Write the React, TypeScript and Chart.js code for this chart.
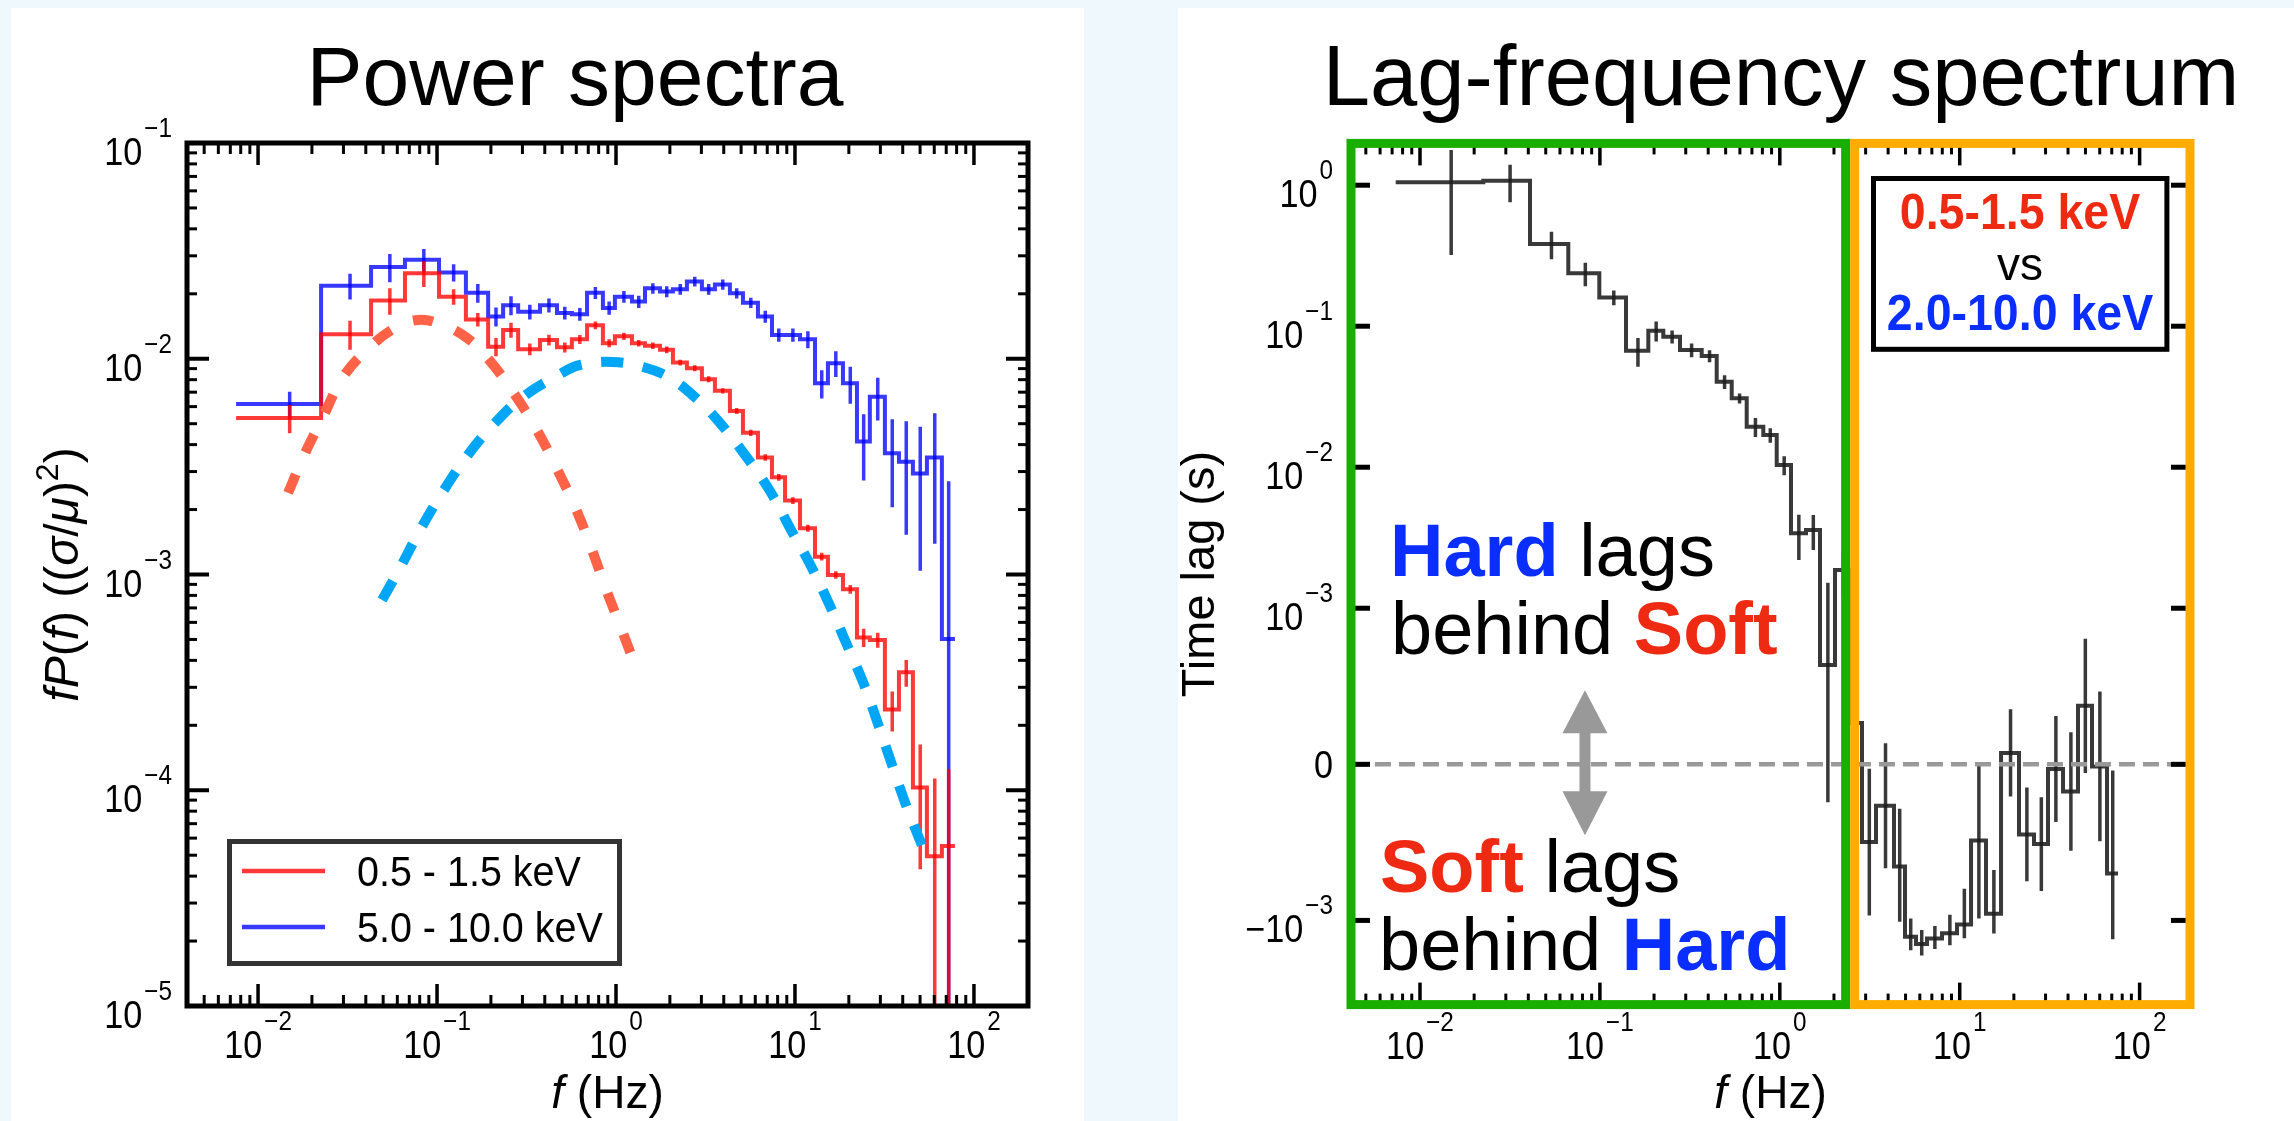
import React, { useEffect, useRef } from 'react';
import { Chart, registerables } from 'chart.js';

Chart.register(...registerables);

const FONT = '"Liberation Sans", Arial, Helvetica, sans-serif';

// ---------------- Power spectra (left panel) ----------------
const psEdges = [0.00754, 0.0225, 0.0428, 0.0662, 0.1026, 0.145, 0.193, 0.234, 0.284, 0.376, 0.468, 0.567, 0.689, 0.845, 0.986, 1.228, 1.452, 1.761, 2.08, 2.49, 3.02, 3.57, 4.33, 5.12, 6.21, 7.44, 8.8, 10.67, 12.94, 15.28, 18.54, 22.2, 26.2, 31.8, 38.1, 45.6, 54.6, 66.2, 78.3];
const softPower = [0.00531, 0.013, 0.0186, 0.0249, 0.0194, 0.0152, 0.01137, 0.0136, 0.01107, 0.01222, 0.0113, 0.0123, 0.0143, 0.0118, 0.0127, 0.0118, 0.0115, 0.011, 0.0096, 0.00904, 0.00804, 0.0071, 0.00573, 0.00454, 0.00349, 0.00282, 0.0022, 0.00164, 0.00121, 0.000995, 0.000854, 0.000511, 0.000497, 0.000237, 0.000352, 0.000103, 0.0000495, 0.0000552];
const softErr = [0.0008, 0.002, 0.0026, 0.0034, 0.0016, 0.0011, 0.0011, 0.0011, 0.0007, 0.0007, 0.0006, 0.0006, 0.0006, 0.0005, 0.0005, 0.0004, 0.0004, 0.0004, 0.0003, 0.0003, 0.00025, 0.0002, 0.00018, 0.00015, 0.00012, 0.0001, 0.00008, 0.00006, 0.00005, 0.00004, 0.00004, 0.00005, 0.00004, 0.00005, 0.00005, 0.00006, 0.000064, 0.00007];
const hardPower = [0.00617, 0.0218, 0.0266, 0.0288, 0.0251, 0.0202, 0.0157, 0.0177, 0.0165, 0.0177, 0.0163, 0.0161, 0.0202, 0.0172, 0.0194, 0.0184, 0.0212, 0.0205, 0.021, 0.0228, 0.021, 0.0221, 0.0201, 0.0182, 0.0157, 0.0129, 0.0129, 0.0123, 0.00769, 0.00952, 0.00769, 0.00413, 0.00667, 0.00365, 0.00333, 0.00294, 0.00349, 0.000502];
const hardErr = [0.00086, 0.003, 0.004, 0.0035, 0.0023, 0.002, 0.0016, 0.0018, 0.0013, 0.0013, 0.0011, 0.0011, 0.0013, 0.0012, 0.0012, 0.0012, 0.0012, 0.0012, 0.0012, 0.0012, 0.0012, 0.0012, 0.0011, 0.001, 0.001, 0.0009, 0.0009, 0.0011, 0.00115, 0.0013, 0.0015, 0.0014, 0.0015, 0.0016, 0.0018, 0.0019, 0.0021, 0.0022];
const softFitF = [0.01472, 0.01832, 0.02307, 0.02985, 0.04227, 0.05825, 0.07834, 0.104, 0.1472, 0.1977, 0.2729, 0.3665, 0.4742, 0.5977, 0.7345, 0.879, 1.0666, 1.309];
const softFitP = [0.00239, 0.00366, 0.00537, 0.00823, 0.01134, 0.01389, 0.01513, 0.01449, 0.01248, 0.00976, 0.00679, 0.00458, 0.00302, 0.00201, 0.0013, 0.000857, 0.000565, 0.00036];
const hardFitF = [0.04932, 0.06209, 0.08035, 0.1067, 0.1472, 0.2056, 0.302, 0.4989, 0.629, 0.9499, 1.416, 2.004, 2.872, 3.811, 5.26, 7.251, 9.377, 12.28, 15.69, 19.54, 24.27, 29.09, 34.85, 41.7, 51.17];
const hardFitP = [0.000762, 0.001072, 0.001607, 0.002387, 0.00354, 0.004932, 0.006653, 0.00859, 0.009354, 0.009662, 0.009162, 0.008147, 0.006442, 0.005039, 0.003581, 0.002438, 0.001642, 0.001095, 0.000715, 0.000471, 0.00031, 0.000203, 0.000131, 0.0000855, 0.0000557];
const psLegend = ['0.5 - 1.5 keV', '5.0 - 10.0 keV'];
const psYTicks = [1e-5, 1e-4, 1e-3, 1e-2, 1e-1];
const xTicks = [1e-2, 1e-1, 1, 10, 100];

// ---------------- Lag-frequency spectrum (right panel) ----------------
const lagEdges = [0.00733, 0.02248, 0.04088, 0.06673, 0.09924, 0.1397, 0.1858, 0.2251, 0.2788, 0.368, 0.4459, 0.5403, 0.6546, 0.8095, 0.9612, 1.154, 1.398, 1.673, 2.027, 2.488, 2.863, 3.425, 4.312, 4.966, 5.716, 6.58, 7.973, 9.66, 11.56, 14.0, 16.97, 21.36, 25.88, 30.96, 37.52, 45.46, 54.38, 65.89, 75.86];
const lagValues = [1.05, 1.076, 0.383, 0.237, 0.16, 0.067, 0.0929, 0.0843, 0.0678, 0.0615, 0.0404, 0.0308, 0.01937, 0.0169, 0.01037, 0.0034, 0.00359, 0.000637, 0.00187, 0.000265, -0.000498, -0.000265, -0.000654, -0.001307, -0.00147, -0.001346, -0.001233, -0.001067, -0.000488, -0.000957, 0.0000731, -0.000449, -0.000511, -0.0000301, -0.000174, 0.000375, -0.0000135, -0.0007];
const lagErr = [0.73, 0.32, 0.085, 0.045, 0.019, 0.0155, 0.015, 0.009, 0.0075, 0.006, 0.0045, 0.0025, 0.003, 0.002, 0.0016, 0.0012, 0.001, 0.00088, 0.00067, 0.0005, 0.00047, 0.0004, 0.00037, 0.00032, 0.0003, 0.00025, 0.00027, 0.00027, 0.0005, 0.00028, 0.00028, 0.0003, 0.0003, 0.00034, 0.00038, 0.00043, 0.00048, 0.00066];
const lagYTicks = [1, 0.1, 0.01, 0.001, 0, -0.001];
const lagBoxText = ['0.5-1.5 keV', 'vs', '2.0-10.0 keV'];
const regionSplitHz = 2.46;
const arrowHz = 0.0826;

// symmetric-log transform used by the lag axis
const LIN_THRESH = 1e-3;
const LIN_SCALE = 1.107;
function symlog(v: number) {
  const a = Math.abs(v);
  if (a <= LIN_THRESH) return (v / LIN_THRESH) * LIN_SCALE;
  return Math.sign(v) * (LIN_SCALE + Math.log10(a / LIN_THRESH));
}

// ---------------- layout (page pixels) ----------------
const LP = { x: 11, y: 8, w: 1073, h: 1113 };
const RP = { x: 1178, y: 8, w: 1116, h: 1113 };

const RED = 'rgba(255,0,0,0.78)';
const BLUE = 'rgba(0,0,255,0.78)';
const LAGC = 'rgba(30,30,30,0.88)';
const HARDC = '#0A2EFF';
const SOFTC = '#EE2A12';

type Seg = { t: string; size: number; style?: string; weight?: string; color?: string; dy?: number; dx?: number; sx?: number };

function segFont(s: Seg) {
  return `${s.style ?? 'normal'} ${s.weight ?? 'normal'} ${s.size}px ${FONT}`;
}
function segWidth(ctx: CanvasRenderingContext2D, s: Seg) {
  ctx.font = segFont(s);
  return ctx.measureText(s.t).width * (s.sx ?? 1);
}
function richWidth(ctx: CanvasRenderingContext2D, segs: Seg[]) {
  let w = 0;
  for (const s of segs) w += segWidth(ctx, s) + (s.dx ?? 0);
  return w;
}
function drawRich(ctx: CanvasRenderingContext2D, segs: Seg[], x: number, y: number, align: 'left' | 'center' | 'right') {
  const w = richWidth(ctx, segs);
  let cx = align === 'left' ? x : align === 'center' ? x - w / 2 : x - w;
  ctx.textAlign = 'left';
  ctx.textBaseline = 'alphabetic';
  for (const s of segs) {
    cx += s.dx ?? 0;
    const sw = segWidth(ctx, s);
    ctx.fillStyle = s.color ?? '#000';
    ctx.save();
    ctx.translate(cx, y + (s.dy ?? 0));
    ctx.scale(s.sx ?? 1, 1);
    ctx.fillText(s.t, 0, 0);
    ctx.restore();
    cx += sw;
  }
}
function powSegs(v: number, supDy: number): Seg[] {
  if (v === 0) return [{ t: '0', size: 38, sx: 0.9 }];
  const e = Math.round(Math.log10(Math.abs(v)));
  return [
    { t: (v < 0 ? '\u2212' : '') + '10', size: 38, sx: 0.9 },
    { t: (e < 0 ? '\u2212' : '') + Math.abs(e), size: 27, sx: 0.9, dy: supDy, dx: 2 },
  ];
}
function seg(ctx: CanvasRenderingContext2D, x1: number, y1: number, x2: number, y2: number) {
  ctx.beginPath();
  ctx.moveTo(x1, y1);
  ctx.lineTo(x2, y2);
  ctx.stroke();
}
function minorValues(lo: number, hi: number) {
  const out: number[] = [];
  for (let d = Math.floor(Math.log10(lo)); d <= Math.ceil(Math.log10(hi)); d++) {
    for (let k = 2; k <= 9; k++) {
      const v = k * Math.pow(10, d);
      if (v > lo && v < hi) out.push(v);
    }
  }
  return out;
}
function stepPoints(edges: number[], vals: number[], tf: (v: number) => number) {
  const pts: { x: number; y: number }[] = [];
  vals.forEach((v, i) => {
    pts.push({ x: edges[i], y: tf(v) });
    pts.push({ x: edges[i + 1], y: tf(v) });
  });
  return pts;
}
function errPoints(edges: number[], vals: number[], errs: number[], tf: (v: number) => number) {
  const pts: { x: number; y: number | null }[] = [];
  vals.forEach((v, i) => {
    const xc = (edges[i] + edges[i + 1]) / 2;
    pts.push({ x: xc, y: tf(v - errs[i]) });
    pts.push({ x: xc, y: tf(v + errs[i]) });
    pts.push({ x: xc, y: null });
  });
  return pts;
}
const logFloor = (v: number) => Math.max(v, 1e-7);

// ---------------- left chart decorations ----------------
const psDecor = {
  id: 'psDecor',
  afterDraw(chart: any) {
    const { ctx, chartArea: a } = chart;
    const xs = chart.scales.x;
    const ys = chart.scales.y;
    const ox = LP.x;
    const oy = LP.y;
    ctx.save();
    ctx.strokeStyle = '#000';
    ctx.lineCap = 'butt';
    ctx.lineWidth = 5;
    ctx.strokeRect(a.left, a.top, a.right - a.left, a.bottom - a.top);
    ctx.lineWidth = 3.5;
    for (const v of xTicks) {
      const p = xs.getPixelForValue(v);
      seg(ctx, p, a.top, p, a.top + 22);
      seg(ctx, p, a.bottom, p, a.bottom - 22);
    }
    ctx.lineWidth = 3;
    for (const v of minorValues(xs.min, xs.max)) {
      const p = xs.getPixelForValue(v);
      seg(ctx, p, a.top, p, a.top + 11);
      seg(ctx, p, a.bottom, p, a.bottom - 11);
    }
    ctx.lineWidth = 4;
    for (const v of psYTicks) {
      const p = ys.getPixelForValue(v);
      seg(ctx, a.left, p, a.left + 22, p);
      seg(ctx, a.right, p, a.right - 22, p);
    }
    ctx.lineWidth = 3;
    for (const v of minorValues(ys.min, ys.max)) {
      const p = ys.getPixelForValue(v);
      seg(ctx, a.left, p, a.left + 10, p);
      seg(ctx, a.right, p, a.right - 10, p);
    }
    for (const v of xTicks) {
      drawRich(ctx, powSegs(v, -28), xs.getPixelForValue(v), 1058 - oy, 'center');
    }
    for (const v of psYTicks) {
      drawRich(ctx, powSegs(v, -28), 172 - ox, ys.getPixelForValue(v) + 22, 'right');
    }
    drawRich(ctx, [{ t: 'f', size: 46, style: 'italic' }, { t: ' (Hz)', size: 46 }], (a.left + a.right) / 2, 1108 - oy, 'center');
    ctx.save();
    ctx.translate(78 - ox, (a.top + a.bottom) / 2);
    ctx.rotate(-Math.PI / 2);
    drawRich(
      ctx,
      [
        { t: 'f', size: 48, style: 'italic' },
        { t: 'P', size: 48, style: 'italic' },
        { t: '(', size: 48 },
        { t: 'f', size: 48, style: 'italic' },
        { t: ') ((', size: 48 },
        { t: '\u03C3', size: 48, style: 'italic' },
        { t: '/', size: 48 },
        { t: '\u03BC', size: 48, style: 'italic' },
        { t: ')', size: 48 },
        { t: '2', size: 32, dy: -20 },
        { t: ')', size: 48 },
      ],
      0,
      0,
      'center'
    );
    ctx.restore();
    // legend
    ctx.fillStyle = '#fff';
    ctx.fillRect(229.5 - ox, 841.5 - oy, 390, 122);
    ctx.strokeStyle = '#333';
    ctx.lineWidth = 5;
    ctx.strokeRect(229.5 - ox, 841.5 - oy, 390, 122);
    ctx.lineWidth = 4.5;
    ctx.strokeStyle = RED;
    seg(ctx, 242 - ox, 871 - oy, 325 - ox, 871 - oy);
    ctx.strokeStyle = BLUE;
    seg(ctx, 242 - ox, 927 - oy, 325 - ox, 927 - oy);
    drawRich(ctx, [{ t: psLegend[0], size: 42, sx: 0.94 }], 357 - ox, 886 - oy, 'left');
    drawRich(ctx, [{ t: psLegend[1], size: 42, sx: 0.94 }], 357 - ox, 942 - oy, 'left');
    drawRich(ctx, [{ t: 'Power spectra', size: 84 }], 575 - ox, 105 - oy, 'center');
    ctx.restore();
  },
};

// ---------------- right chart decorations ----------------
const lagDecor = {
  id: 'lagDecor',
  afterDatasetsDraw(chart: any) {
    const { ctx, chartArea: a } = chart;
    const ys = chart.scales.y;
    const p0 = ys.getPixelForValue(symlog(0));
    ctx.save();
    ctx.strokeStyle = '#999999';
    ctx.lineWidth = 4.5;
    ctx.setLineDash([16, 8]);
    seg(ctx, a.left, p0, a.right, p0);
    ctx.restore();
  },
  afterDraw(chart: any) {
    const { ctx, chartArea: a } = chart;
    const xs = chart.scales.x;
    const ys = chart.scales.y;
    const ox = RP.x;
    const oy = RP.y;
    ctx.save();
    ctx.strokeStyle = '#000';
    ctx.lineCap = 'butt';
    ctx.lineWidth = 3.5;
    for (const v of xTicks) {
      const p = xs.getPixelForValue(v);
      seg(ctx, p, a.top, p, a.top + 22);
      seg(ctx, p, a.bottom, p, a.bottom - 22);
    }
    ctx.lineWidth = 3;
    for (const v of minorValues(xs.min, xs.max)) {
      const p = xs.getPixelForValue(v);
      seg(ctx, p, a.top, p, a.top + 11);
      seg(ctx, p, a.bottom, p, a.bottom - 11);
    }
    ctx.lineWidth = 5;
    for (const v of lagYTicks) {
      const p = ys.getPixelForValue(symlog(v));
      seg(ctx, a.left, p, a.left + 19, p);
      seg(ctx, a.right, p, a.right - 19, p);
    }
    // region frames
    const split = xs.getPixelForValue(regionSplitHz);
    ctx.lineWidth = 9;
    ctx.strokeStyle = '#1AAE00';
    ctx.strokeRect(a.left, a.top, split - 4.5 - a.left, a.bottom - a.top);
    ctx.strokeStyle = '#FFAC00';
    ctx.strokeRect(split + 4.5, a.top, a.right - split - 4.5, a.bottom - a.top);
    for (const v of xTicks) {
      drawRich(ctx, powSegs(v, -28), xs.getPixelForValue(v), 1059 - oy, 'center');
    }
    for (const v of lagYTicks) {
      const p = ys.getPixelForValue(symlog(v));
      drawRich(ctx, powSegs(v, -28), 1333 - ox, p + (v === 0 ? 14 : 22), 'right');
    }
    drawRich(ctx, [{ t: 'f', size: 46, style: 'italic' }, { t: ' (Hz)', size: 46 }], (a.left + a.right) / 2, 1108 - oy, 'center');
    ctx.save();
    ctx.translate(1214 - ox, (a.top + a.bottom) / 2);
    ctx.rotate(-Math.PI / 2);
    drawRich(ctx, [{ t: 'Time lag (s)', size: 47 }], 0, 0, 'center');
    ctx.restore();
    // double arrow
    const ax = xs.getPixelForValue(arrowHz);
    const ay = ys.getPixelForValue(symlog(0));
    ctx.fillStyle = '#999999';
    ctx.fillRect(ax - 5.5, ay - 33, 11, 62);
    ctx.beginPath();
    ctx.moveTo(ax, ay - 74);
    ctx.lineTo(ax + 22.5, ay - 31);
    ctx.lineTo(ax - 22.5, ay - 31);
    ctx.closePath();
    ctx.fill();
    ctx.beginPath();
    ctx.moveTo(ax, ay + 71);
    ctx.lineTo(ax + 22.5, ay + 27);
    ctx.lineTo(ax - 22.5, ay + 27);
    ctx.closePath();
    ctx.fill();
    // annotations
    drawRich(ctx, [{ t: 'Hard', size: 74, weight: 'bold', color: HARDC }, { t: ' lags', size: 74 }], 1390 - ox, 576 - oy, 'left');
    drawRich(ctx, [{ t: 'behind ', size: 74 }, { t: 'Soft', size: 74, weight: 'bold', color: SOFTC }], 1391 - ox, 654 - oy, 'left');
    drawRich(ctx, [{ t: 'Soft', size: 74, weight: 'bold', color: SOFTC }, { t: ' lags', size: 74 }], 1380 - ox, 892 - oy, 'left');
    drawRich(ctx, [{ t: 'behind ', size: 74 }, { t: 'Hard', size: 74, weight: 'bold', color: HARDC }], 1379 - ox, 970 - oy, 'left');
    // energy box
    ctx.fillStyle = '#fff';
    ctx.fillRect(1873.5 - ox, 178.5 - oy, 293.4, 170.8);
    ctx.strokeStyle = '#000';
    ctx.lineWidth = 5;
    ctx.strokeRect(1873.5 - ox, 178.5 - oy, 293.4, 170.8);
    drawRich(ctx, [{ t: lagBoxText[0], size: 50, weight: 'bold', color: SOFTC, sx: 0.93 }], 2020 - ox, 229 - oy, 'center');
    drawRich(ctx, [{ t: lagBoxText[1], size: 46 }], 2020 - ox, 280 - oy, 'center');
    drawRich(ctx, [{ t: lagBoxText[2], size: 50, weight: 'bold', color: HARDC, sx: 0.93 }], 2020 - ox, 330 - oy, 'center');
    drawRich(ctx, [{ t: 'Lag-frequency spectrum', size: 85 }], 1781 - ox, 105 - oy, 'center');
    ctx.restore();
  },
};

function baseOptions(padding: any, xMin: number, xMax: number, y: any) {
  return {
    animation: false,
    responsive: false,
    devicePixelRatio: 1,
    events: [],
    layout: { padding },
    plugins: { legend: { display: false }, title: { display: false }, tooltip: { enabled: false } },
    elements: { point: { radius: 0, hoverRadius: 0 }, line: { borderCapStyle: 'butt', borderJoinStyle: 'miter', fill: false } },
    scales: {
      x: { type: 'logarithmic', min: xMin, max: xMax, display: false },
      y: { ...y, display: false },
    },
  };
}

function leftConfig(): any {
  return {
    type: 'line',
    data: {
      datasets: [
        { data: softFitF.map((f, i) => ({ x: f, y: softFitP[i] })), borderColor: '#FF6347', borderWidth: 10, borderDash: [20, 24], tension: 0.4, clip: 0 },
        { data: hardFitF.map((f, i) => ({ x: f, y: hardFitP[i] })), borderColor: '#00A6F6', borderWidth: 10, borderDash: [22, 20], tension: 0.4, clip: 0 },
        { data: stepPoints(psEdges, softPower, logFloor), borderColor: RED, borderWidth: 4, tension: 0, clip: 0 },
        { data: errPoints(psEdges, softPower, softErr, logFloor), borderColor: RED, borderWidth: 3.5, tension: 0, spanGaps: false, clip: 0 },
        { data: stepPoints(psEdges, hardPower, logFloor), borderColor: BLUE, borderWidth: 4, tension: 0, clip: 0 },
        { data: errPoints(psEdges, hardPower, hardErr, logFloor), borderColor: BLUE, borderWidth: 3.5, tension: 0, spanGaps: false, clip: 0 },
      ],
    },
    options: baseOptions({ left: 176, top: 135, right: 56, bottom: 115 }, Math.pow(10, -2.397), Math.pow(10, 2.302), { type: 'logarithmic', min: 1e-5, max: 1e-1 }),
    plugins: [psDecor],
  };
}

function rightConfig(): any {
  return {
    type: 'line',
    data: {
      datasets: [
        { data: stepPoints(lagEdges, lagValues, symlog), borderColor: LAGC, borderWidth: 4, tension: 0, clip: 0 },
        { data: errPoints(lagEdges, lagValues, lagErr, symlog), borderColor: LAGC, borderWidth: 3.5, tension: 0, spanGaps: false, clip: 0 },
      ],
    },
    options: baseOptions({ left: 173, top: 135.4, right: 104, bottom: 116.4 }, Math.pow(10, -2.3835), Math.pow(10, 2.28), { type: 'linear', min: -1.704, max: 4.4035 }),
    plugins: [lagDecor],
  };
}

export default function App() {
  const lRef = useRef<HTMLCanvasElement>(null);
  const rRef = useRef<HTMLCanvasElement>(null);
  useEffect(() => {
    const c1 = new Chart(lRef.current as HTMLCanvasElement, leftConfig());
    const c2 = new Chart(rRef.current as HTMLCanvasElement, rightConfig());
    return () => {
      c1.destroy();
      c2.destroy();
    };
  }, []);
  return (
    <div style={{ position: 'fixed', left: 0, top: 0, width: 2294, height: 1121, background: '#EEF8FD', overflow: 'hidden' }}>
      <div style={{ position: 'absolute', left: LP.x, top: LP.y, width: LP.w, height: LP.h, background: '#fff' }}>
        <canvas ref={lRef} width={LP.w} height={LP.h} style={{ display: 'block', width: LP.w, height: LP.h }} />
      </div>
      <div style={{ position: 'absolute', left: RP.x, top: RP.y, width: RP.w, height: RP.h, background: '#fff' }}>
        <canvas ref={rRef} width={RP.w} height={RP.h} style={{ display: 'block', width: RP.w, height: RP.h }} />
      </div>
    </div>
  );
}
